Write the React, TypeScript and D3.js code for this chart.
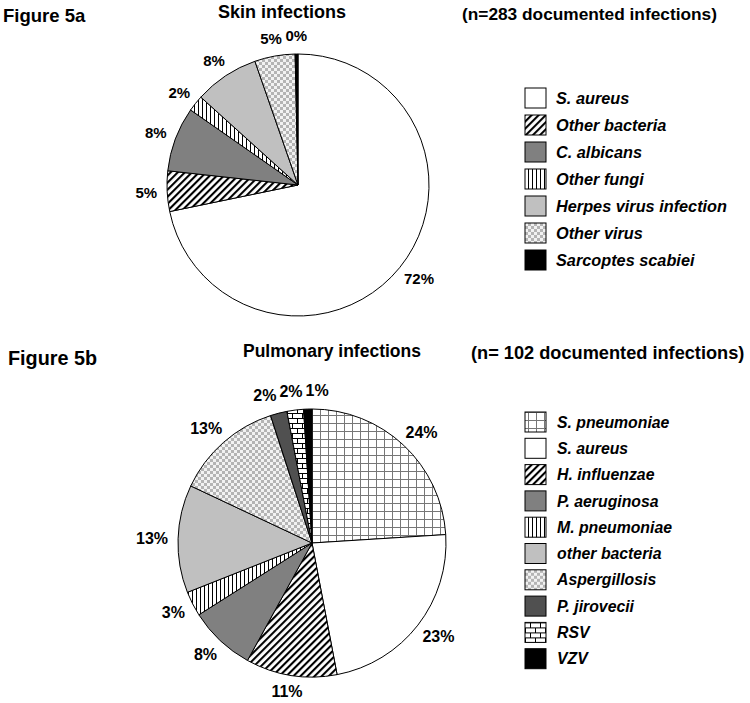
import React from "react";
import * as d3 from "d3";

// ---------- DATA ----------
const skinCategories = [
  "S. aureus",
  "Other bacteria",
  "C. albicans",
  "Other fungi",
  "Herpes virus infection",
  "Other virus",
  "Sarcoptes scabiei",
];
const skinValues = [72, 5, 8, 2, 8, 5, 0.35];

const pulmCategories = [
  "S. pneumoniae",
  "S. aureus",
  "H. influenzae",
  "P. aeruginosa",
  "M. pneumoniae",
  "other bacteria",
  "Aspergillosis",
  "P. jirovecii",
  "RSV",
  "VZV",
];
const pulmValues = [24, 23, 11, 8, 3, 13, 13, 2, 2, 1];

// ---------- STYLES ----------
const skinFills = [
  "#ffffff",
  "url(#hatch)",
  "#808080",
  "url(#vlines)",
  "#c0c0c0",
  "url(#checker)",
  "#000000",
];
const pulmFills = [
  "url(#grid)",
  "#ffffff",
  "url(#hatch)",
  "#808080",
  "url(#vlines)",
  "#c0c0c0",
  "url(#checker)",
  "#505050",
  "url(#brick)",
  "#000000",
];

const FONT = "'Liberation Sans', Arial, Helvetica, sans-serif";
const W = 750;
const H = 703;

type PieProps = {
  cx: number;
  cy: number;
  r: number;
  values: number[];
  fills: string[];
  labelSize: number;
  gap: number;
};

function textWidth(s: string, size: number) {
  let w = 0;
  for (const ch of s) w += ch === "%" ? 0.889 : 0.556;
  return w * size;
}

function Pie({ cx, cy, r, values, fills, labelSize, gap }: PieProps) {
  const total = d3.sum(values);
  const arcs = d3
    .pie<number>()
    .sort(null)
    .value((d) => d)(values);
  const arcGen = d3.arc<d3.PieArcDatum<number>>().innerRadius(0).outerRadius(r);

  const labels = arcs.map((a) => {
    const mid = (a.startAngle + a.endAngle) / 2;
    const s = Math.sin(mid);
    const c = Math.cos(mid);
    const text = Math.round((a.data / total) * 100) + "%";
    const w = textWidth(text, labelSize);
    const h = labelSize * 0.75;
    const px = (r + gap) * s;
    const py = -(r + gap) * c;
    return { text, w, h, x: px + (s * w) / 2, y: py - (c * h) / 1.4, mid };
  });
  // simple horizontal collision resolution
  for (let it = 0; it < 60; it++) {
    for (let i = 0; i < labels.length; i++) {
      for (let j = i + 1; j < labels.length; j++) {
        const A = labels[i];
        const B = labels[j];
        const minDx = (A.w + B.w) / 2 + 3;
        const dx = B.x - A.x;
        const dy = B.y - A.y;
        if (Math.abs(dx) < minDx && Math.abs(dy) < (A.h + B.h) / 2 + 2) {
          const push = (minDx - Math.abs(dx)) / 2;
          const dir = dx >= 0 ? 1 : -1;
          A.x -= dir * push;
          B.x += dir * push;
        }
      }
    }
  }
  // keep labels inside the drawing
  labels.forEach((l) => {
    const maxY = H - cy - l.h / 2 - 6;
    if (l.y > maxY) l.y = maxY;
  });

  return (
    <g transform={`translate(${cx},${cy})`}>
      {arcs.map((a, i) => (
        <path
          key={i}
          d={arcGen(a) || ""}
          fill={fills[i]}
          stroke="#000"
          strokeWidth={1}
          strokeLinejoin="round"
        />
      ))}
      {labels.map((l, i) => (
        <text
          key={"l" + i}
          x={l.x}
          y={l.y}
          dy="0.36em"
          textAnchor="middle"
          fontFamily={FONT}
          fontWeight="bold"
          fontSize={labelSize}
          fill="#000"
        >
          {l.text}
        </text>
      ))}
    </g>
  );
}

type LegendProps = {
  x: number;
  y: number;
  step: number;
  items: string[];
  fills: string[];
  fontSize: number;
  textX: number;
};

function Legend({ x, y, step, items, fills, fontSize, textX }: LegendProps) {
  return (
    <g>
      {items.map((name, i) => (
        <g key={i} transform={`translate(0,${y + i * step})`}>
          <rect x={x} y={0} width={21} height={20} fill={fills[i]} stroke="#000" strokeWidth={1} />
          <text
            x={textX}
            y={10}
            dy="0.36em"
            fontFamily={FONT}
            fontWeight="bold"
            fontStyle="italic"
            fontSize={fontSize}
            fill="#000"
          >
            {name}
          </text>
        </g>
      ))}
    </g>
  );
}

export default function App() {
  return (
    <svg
      width={W}
      height={H}
      style={{ position: "absolute", left: 0, top: 0, background: "#fff" }}
    >
      <defs>
        <pattern id="hatch" patternUnits="userSpaceOnUse" width={5} height={5} patternTransform="rotate(45)">
          <rect width={5} height={5} fill="#fff" />
          <line x1={1} y1={0} x2={1} y2={5} stroke="#000" strokeWidth={2.2} />
        </pattern>
        <pattern id="vlines" patternUnits="userSpaceOnUse" width={4} height={4}>
          <rect width={4} height={4} fill="#fff" />
          <line x1={0.5} y1={0} x2={0.5} y2={4} stroke="#000" strokeWidth={1} />
        </pattern>
        <pattern id="checker" patternUnits="userSpaceOnUse" width={6} height={6}>
          <rect width={6} height={6} fill="#f2f2f2" />
          <rect width={3} height={3} fill="#b4b4b4" />
          <rect x={3} y={3} width={3} height={3} fill="#b4b4b4" />
        </pattern>
        <pattern id="grid" patternUnits="userSpaceOnUse" width={8} height={8}>
          <rect width={8} height={8} fill="#fff" />
          <path d="M0,0.5H8M0.5,0V8" stroke="#777" strokeWidth={1} />
        </pattern>
        <pattern id="brick" patternUnits="userSpaceOnUse" width={10} height={10}>
          <rect width={10} height={10} fill="#fff" />
          <path d="M0,0.5H10M0,5.5H10M0.5,0.5V5.5M5.5,5.5V10" stroke="#000" strokeWidth={1} />
        </pattern>
      </defs>

      {/* Figure 5a */}
      <text x={3} y={22} fontFamily={FONT} fontWeight="bold" fontSize={18.5}>
        Figure 5a
      </text>
      <text x={218} y={18} fontFamily={FONT} fontWeight="bold" fontSize={18}>
        Skin infections
      </text>
      <text x={462} y={20} fontFamily={FONT} fontWeight="bold" fontSize={17.3}>
        (n=283 documented infections)
      </text>
      <Pie cx={298} cy={185} r={131} values={skinValues} fills={skinFills} labelSize={15} gap={10} />
      <Legend x={525} y={88} step={27} items={skinCategories} fills={skinFills} fontSize={16.3} textX={556} />

      {/* Figure 5b */}
      <text x={8} y={365} fontFamily={FONT} fontWeight="bold" fontSize={19.8}>
        Figure 5b
      </text>
      <text x={243} y={357} fontFamily={FONT} fontWeight="bold" fontSize={17.5}>
        Pulmonary infections
      </text>
      <text x={471} y={359} fontFamily={FONT} fontWeight="bold" fontSize={18.2}>
        (n= 102 documented infections)
      </text>
      <Pie cx={312} cy={543} r={134} values={pulmValues} fills={pulmFills} labelSize={16} gap={10} />
      <Legend x={525} y={412} step={26.3} items={pulmCategories} fills={pulmFills} fontSize={15.8} textX={557} />
    </svg>
  );
}
